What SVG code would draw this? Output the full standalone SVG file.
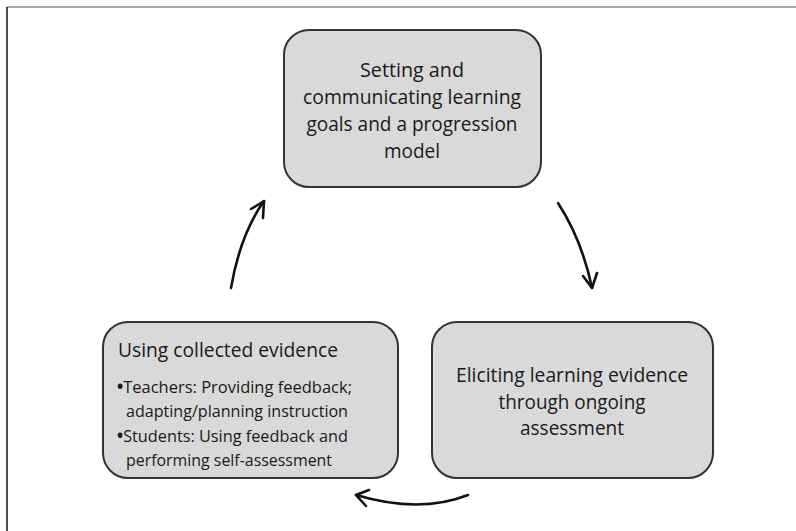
<svg xmlns="http://www.w3.org/2000/svg" width="796" height="531" viewBox="0 0 796 531">
  <defs>
    <style>
      .box { fill: #d9d9d9; stroke: #333333; stroke-width: 2; }
      .label { font-family: "Open Sans", "Liberation Sans", Arial, sans-serif; font-size: 20px; fill: #1a1a1a; }
      .mid { text-anchor: middle; }
      .bullet { font-size: 17px; }
      .dot { font-weight: bold; }
      .conn { fill: none; stroke: #111111; stroke-width: 2.6; stroke-linecap: round; stroke-linejoin: round; }
    </style>
  </defs>

  <rect x="0" y="0" width="796" height="531" fill="#ffffff"/>

  <!-- page frame: top and left rules -->
  <line x1="7" y1="7" x2="796" y2="7" stroke="#8a8a8a" stroke-width="1.6"/>
  <line x1="7" y1="7" x2="7" y2="531" stroke="#222222" stroke-width="1.6"/>

  <g id="node-goals">
    <rect class="box" x="284" y="30" width="257" height="157" rx="25" ry="25"/>
    <text class="label mid" x="412" y="77" textLength="104" lengthAdjust="spacingAndGlyphs">Setting and</text>
    <text class="label mid" x="412" y="104" textLength="218" lengthAdjust="spacingAndGlyphs">communicating learning</text>
    <text class="label mid" x="412" y="131" textLength="211" lengthAdjust="spacingAndGlyphs">goals and a progression</text>
    <text class="label mid" x="412" y="158" textLength="56" lengthAdjust="spacingAndGlyphs">model</text>
  </g>

  <g id="node-eliciting">
    <rect class="box" x="432" y="322" width="281" height="156" rx="25" ry="25"/>
    <text class="label mid" x="572" y="382" textLength="232" lengthAdjust="spacingAndGlyphs">Eliciting learning evidence</text>
    <text class="label mid" x="572" y="409" textLength="147" lengthAdjust="spacingAndGlyphs">through ongoing</text>
    <text class="label mid" x="572" y="435" textLength="104" lengthAdjust="spacingAndGlyphs">assessment</text>
  </g>

  <g id="node-using">
    <rect class="box" x="103" y="322" width="295" height="156" rx="25" ry="25"/>
    <text class="label" x="118" y="357" font-size="22" textLength="220" lengthAdjust="spacingAndGlyphs">Using collected evidence</text>
    <text class="label bullet" x="117" y="393" textLength="235" lengthAdjust="spacingAndGlyphs"><tspan class="dot">•</tspan>Teachers: Providing feedback;</text>
    <text class="label bullet" x="126" y="417" textLength="222" lengthAdjust="spacingAndGlyphs">adapting/planning instruction</text>
    <text class="label bullet" x="117" y="442" textLength="231" lengthAdjust="spacingAndGlyphs"><tspan class="dot">•</tspan>Students: Using feedback and</text>
    <text class="label bullet" x="126" y="466" textLength="206" lengthAdjust="spacingAndGlyphs">performing self-assessment</text>
  </g>

  <g id="connectors">
    <!-- goals -> eliciting -->
    <path class="conn" d="M558,203 Q582,240 592,288"/>
    <path class="conn" d="M583,276 L592,288 L597,273"/>
    <!-- eliciting -> using -->
    <path class="conn" d="M468,495 Q420,514 356,495"/>
    <path class="conn" d="M369,490 L356,495 L366,506"/>
    <!-- using -> goals -->
    <path class="conn" d="M231,288 Q240,235 264,201"/>
    <path class="conn" d="M251,209 L264,201 L263,218"/>
  </g>
</svg>
